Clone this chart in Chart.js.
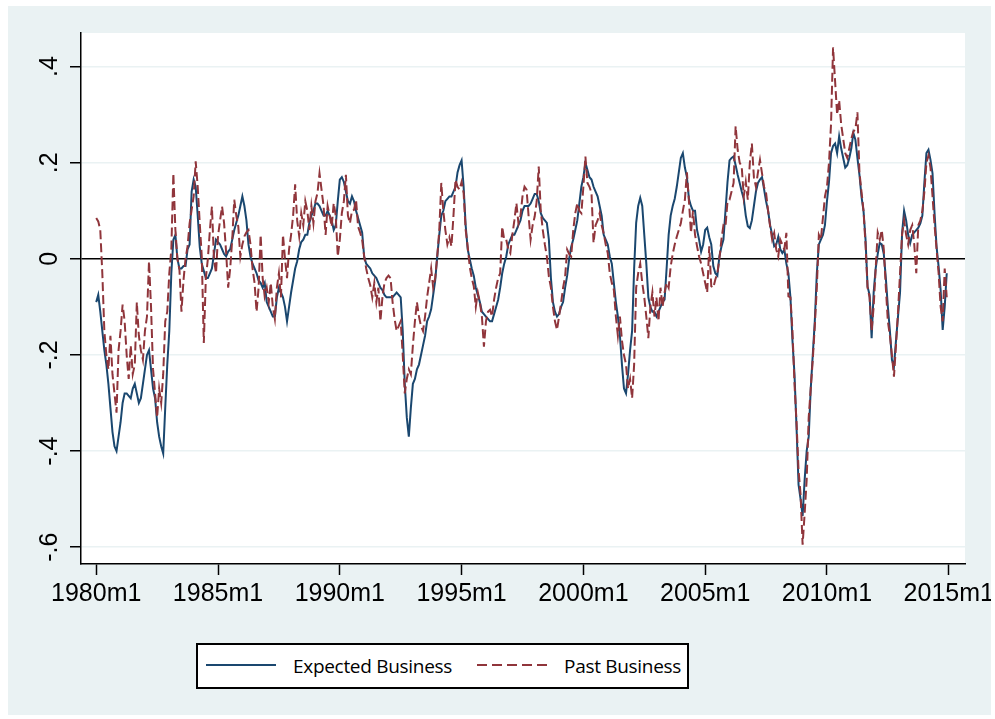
<!DOCTYPE html>
<html>
<head>
<meta charset="utf-8">
<script src="https://cdn.jsdelivr.net/npm/chart.js@4.4.0/dist/chart.umd.min.js"></script>
<style>
  body { margin: 0; background: #fff; width: 995px; height: 719px; overflow: hidden; position: relative; }
  #frame { position: absolute; left: 8px; top: 6px; width: 983px; height: 709px; background: #eaf2f3; }
  #chart { position: absolute; left: 0; top: 0; }
  #legend { position: absolute; left: 188px; top: 637px; width: 493px; height: 46px; box-sizing: border-box;
            border: 2px solid #000; background: #fff; font-family: "Open Sans", sans-serif; font-size: 19px; color: #000; }
  #legend svg, #legend span { position: absolute; }
  #legend span { top: 8px; line-height: 26px; white-space: nowrap; letter-spacing: -0.3px; }
</style>
</head>
<body>
<div id="frame">
  <canvas id="chart" width="983" height="709"></canvas>
  <div id="legend">
    <svg style="left:8px; top:17px" width="70" height="6"><line x1="0" y1="3" x2="70" y2="3" stroke="#1a476f" stroke-width="2"/></svg>
    <span id="lab0" style="left:95px"></span>
    <svg style="left:279px; top:17px" width="72" height="6"><line x1="0" y1="3" x2="72" y2="3" stroke="#90353b" stroke-width="2" stroke-dasharray="10,5"/></svg>
    <span id="lab1" style="left:366px"></span>
  </div>
</div>
<script>
// monthly values, 1980m1 .. 2014m12, one row per year
const expectedBusiness = [
  -0.09, -0.075, -0.11, -0.15, -0.19, -0.22, -0.26, -0.31, -0.36, -0.39, -0.40, -0.37,   // 1980
  -0.34, -0.30, -0.28, -0.28, -0.285, -0.29, -0.27, -0.26, -0.28, -0.30, -0.29, -0.26,   // 1981
  -0.23, -0.20, -0.19, -0.23, -0.27, -0.29, -0.34, -0.37, -0.39, -0.405, -0.31, -0.22,   // 1982
  -0.15, -0.03, 0.04, 0.05, 0.0, -0.02, -0.02, -0.015, -0.015, 0.02, 0.03, 0.14,          // 1983
  0.165, 0.15, 0.09, 0.025, -0.01, -0.025, -0.04, -0.04, -0.03, -0.02, 0.01, 0.04,        // 1984
  0.035, 0.03, 0.02, 0.01, 0.005, 0.015, 0.02, 0.04, 0.06, 0.075, 0.09, 0.11,             // 1985
  0.13, 0.11, 0.08, 0.03, 0.005, -0.01, -0.02, -0.03, -0.045, -0.05, -0.06, -0.05,        // 1986
  -0.09, -0.10, -0.11, -0.12, -0.12, -0.08, -0.06, -0.07, -0.08, -0.10, -0.13, -0.10,    // 1987
  -0.07, -0.045, -0.02, -0.005, 0.02, 0.035, 0.04, 0.05, 0.05, 0.075, 0.09, 0.10,        // 1988
  0.115, 0.115, 0.11, 0.10, 0.09, 0.09, 0.10, 0.09, 0.08, 0.06, 0.07, 0.12,               // 1989
  0.165, 0.17, 0.16, 0.14, 0.12, 0.115, 0.13, 0.12, 0.10, 0.085, 0.07, 0.055,             // 1990
  0.005, -0.01, -0.015, -0.02, -0.03, -0.035, -0.04, -0.05, -0.06, -0.065, -0.075, -0.08, // 1991
  -0.08, -0.08, -0.08, -0.075, -0.07, -0.075, -0.08, -0.15, -0.26, -0.33, -0.37, -0.31,  // 1992
  -0.26, -0.25, -0.23, -0.22, -0.20, -0.18, -0.16, -0.13, -0.12, -0.105, -0.075, -0.045, // 1993
  0.005, 0.05, 0.09, 0.10, 0.12, 0.125, 0.13, 0.13, 0.14, 0.15, 0.18, 0.195,             // 1994
  0.205, 0.15, 0.07, 0.02, 0.0, -0.02, -0.035, -0.06, -0.075, -0.09, -0.11, -0.115,      // 1995
  -0.12, -0.125, -0.13, -0.13, -0.115, -0.10, -0.085, -0.06, -0.03, -0.01, 0.005, 0.03,  // 1996
  0.04, 0.05, 0.05, 0.06, 0.07, 0.08, 0.10, 0.11, 0.11, 0.11, 0.115, 0.125,               // 1997
  0.135, 0.135, 0.12, 0.095, 0.085, 0.08, 0.075, 0.04, -0.04, -0.09, -0.11, -0.12,        // 1998
  -0.115, -0.10, -0.09, -0.06, -0.035, 0.0, 0.025, 0.04, 0.06, 0.08, 0.115, 0.15,        // 1999
  0.17, 0.20, 0.185, 0.17, 0.165, 0.15, 0.14, 0.13, 0.11, 0.09, 0.05, 0.04,               // 2000
  0.03, 0.005, -0.01, -0.05, -0.09, -0.12, -0.16, -0.22, -0.27, -0.28, -0.24, -0.19,     // 2001
  -0.15, -0.02, 0.075, 0.11, 0.127, 0.11, 0.05, -0.01, -0.08, -0.10, -0.11, -0.11,       // 2002
  -0.12, -0.11, -0.10, -0.09, -0.085, -0.02, 0.05, 0.09, 0.11, 0.125, 0.15, 0.18,        // 2003
  0.21, 0.22, 0.19, 0.17, 0.125, 0.11, 0.10, 0.10, 0.06, 0.04, 0.015, 0.03,               // 2004
  0.06, 0.065, 0.045, 0.03, -0.015, -0.03, -0.035, 0.005, 0.025, 0.04, 0.10, 0.16,        // 2005
  0.205, 0.21, 0.213, 0.195, 0.175, 0.158, 0.14, 0.125, 0.09, 0.068, 0.064, 0.08,         // 2006
  0.11, 0.14, 0.158, 0.165, 0.17, 0.145, 0.12, 0.10, 0.07, 0.05, 0.026, 0.03,             // 2007
  0.046, 0.02, 0.012, 0.019, -0.01, -0.03, -0.08, -0.17, -0.24, -0.35, -0.47, -0.50,     // 2008
  -0.535, -0.46, -0.40, -0.37, -0.27, -0.20, -0.13, -0.03, 0.03, 0.04, 0.05, 0.07,       // 2009
  0.12, 0.16, 0.22, 0.235, 0.24, 0.22, 0.255, 0.23, 0.21, 0.19, 0.195, 0.21,              // 2010
  0.23, 0.262, 0.248, 0.21, 0.175, 0.13, 0.10, 0.04, -0.058, -0.075, -0.165, -0.07,       // 2011
  -0.02, 0.01, 0.033, 0.03, 0.01, -0.04, -0.10, -0.15, -0.21, -0.224, -0.17, -0.12,      // 2012
  -0.07, 0.053, 0.10, 0.08, 0.05, 0.033, 0.05, 0.055, 0.06, 0.065, 0.074, 0.09,          // 2013
  0.16, 0.22, 0.227, 0.206, 0.178, 0.095, 0.025, -0.016, -0.065, -0.148, -0.10, -0.03    // 2014
];

const pastBusiness = [
  0.085, 0.078, 0.06, -0.03, -0.15, -0.20, -0.23, -0.16, -0.24, -0.28, -0.32, -0.19,     // 1980
  -0.15, -0.095, -0.13, -0.20, -0.25, -0.18, -0.24, -0.22, -0.09, -0.16, -0.19, -0.21,   // 1981
  -0.15, -0.12, -0.005, -0.10, -0.23, -0.28, -0.33, -0.27, -0.30, -0.24, -0.13, -0.11,   // 1982
  -0.03, 0.02, 0.178, 0.06, 0.0, -0.023, -0.11, -0.044, 0.0, 0.026, 0.074, 0.102,        // 1983
  0.13, 0.203, 0.15, 0.074, 0.005, -0.175, -0.04, 0.0, 0.06, 0.109, 0.0, -0.03,          // 1984
  0.047, 0.08, 0.109, 0.074, 0.013, -0.06, -0.02, 0.04, 0.123, 0.09, 0.067, 0.005,       // 1985
  0.03, 0.047, 0.055, 0.06, 0.03, -0.02, -0.05, -0.11, -0.06, 0.05, -0.04, -0.078,       // 1986
  -0.06, -0.09, -0.05, -0.10, -0.125, -0.06, -0.03, -0.08, 0.05, 0.0, -0.04, 0.02,       // 1987
  0.05, 0.09, 0.155, 0.08, 0.047, 0.095, 0.07, 0.12, 0.10, 0.06, 0.11, 0.074,            // 1988
  0.12, 0.137, 0.178, 0.144, 0.11, 0.05, 0.11, 0.09, 0.067, 0.116, 0.09, 0.005,          // 1989
  0.04, 0.095, 0.12, 0.175, 0.09, 0.074, 0.10, 0.102, 0.123, 0.067, 0.055, 0.04,         // 1990
  0.005, -0.02, -0.04, -0.055, -0.08, -0.05, -0.09, -0.06, -0.13, -0.08, -0.05, -0.04,  // 1991
  -0.035, -0.04, -0.09, -0.125, -0.15, -0.14, -0.13, -0.20, -0.28, -0.25, -0.23, -0.24, // 1992
  -0.18, -0.13, -0.09, -0.12, -0.14, -0.15, -0.12, -0.08, -0.05, -0.02, -0.06, -0.04,   // 1993
  0.005, 0.06, 0.158, 0.10, 0.06, 0.03, 0.045, 0.026, 0.09, 0.165, 0.15, 0.144,         // 1994
  0.16, 0.137, 0.06, 0.026, -0.016, -0.04, -0.057, -0.10, -0.07, -0.09, -0.12, -0.183,  // 1995
  -0.13, -0.11, -0.106, -0.12, -0.085, -0.06, -0.04, -0.03, 0.067, 0.04, 0.04, 0.02,    // 1996
  0.012, 0.05, 0.08, 0.116, 0.074, 0.09, 0.13, 0.15, 0.144, 0.09, 0.04, 0.07,           // 1997
  0.088, 0.12, 0.192, 0.10, 0.06, 0.03, 0.005, -0.037, -0.06, -0.10, -0.13, -0.148,     // 1998
  -0.12, -0.092, -0.06, -0.037, 0.019, 0.01, 0.005, 0.06, 0.095, 0.116, 0.10, 0.095,    // 1999
  0.15, 0.213, 0.158, 0.15, 0.137, 0.033, 0.07, 0.08, 0.095, 0.07, 0.053, 0.03,         // 2000
  0.012, -0.03, -0.05, -0.064, -0.12, -0.16, -0.12, -0.17, -0.20, -0.22, -0.27, -0.25,  // 2001
  -0.29, -0.22, -0.06, -0.03, -0.01, -0.05, -0.08, -0.12, -0.165, -0.10, -0.07, -0.12,  // 2002
  -0.08, -0.13, -0.06, -0.10, -0.07, -0.05, -0.06, -0.016, 0.01, 0.03, 0.046, 0.06,     // 2003
  0.074, 0.10, 0.123, 0.18, 0.12, 0.054, 0.10, 0.05, 0.026, 0.005, -0.01, -0.03,        // 2004
  -0.05, -0.07, 0.026, -0.057, -0.06, -0.043, -0.03, 0.0, 0.04, 0.07, 0.067, 0.12,      // 2005
  0.123, 0.14, 0.158, 0.276, 0.227, 0.20, 0.192, 0.13, 0.16, 0.123, 0.20, 0.24,         // 2006
  0.17, 0.15, 0.18, 0.206, 0.178, 0.15, 0.137, 0.10, 0.067, 0.04, 0.054, 0.02,          // 2007
  0.005, 0.04, 0.03, 0.02, 0.054, -0.078, -0.08, -0.15, -0.26, -0.34, -0.44, -0.49,     // 2008
  -0.595, -0.53, -0.46, -0.33, -0.27, -0.21, -0.14, -0.06, 0.05, 0.04, 0.085, 0.13,     // 2009
  0.15, 0.20, 0.28, 0.44, 0.37, 0.30, 0.33, 0.28, 0.25, 0.22, 0.21, 0.23,               // 2010
  0.25, 0.265, 0.27, 0.305, 0.18, 0.14, 0.10, 0.03, -0.06, -0.08, -0.15, -0.10,         // 2011
  -0.02, 0.055, 0.04, 0.06, 0.02, -0.06, -0.13, -0.16, -0.20, -0.245, -0.18, -0.11,     // 2012
  -0.03, 0.05, 0.08, 0.05, 0.03, 0.06, 0.07, 0.03, -0.03, 0.07, 0.08, 0.10,             // 2013
  0.14, 0.20, 0.215, 0.19, 0.13, 0.07, 0.02, -0.03, -0.10, -0.13, -0.02, -0.08          // 2014
];

const startYear = 1980;
const seriesNames = ['Expected Business', 'Past Business'];
const seriesColors = ['#1a476f', '#90353b'];
const xTickMonths = [0, 60, 120, 180, 240, 300, 360, 420];
const yTickValues = [-0.6, -0.4, -0.2, 0, 0.2, 0.4];

document.getElementById('lab0').textContent = seriesNames[0];
document.getElementById('lab1').textContent = seriesNames[1];

const tickFont = { family: '"Liberation Sans", Arial, sans-serif', size: 25 };

// white plot region inside the grey-blue graph region
const plotBg = {
  id: 'plotBg',
  beforeDraw(chart) {
    const a = chart.chartArea;
    const ctx = chart.ctx;
    ctx.save();
    ctx.fillStyle = '#ffffff';
    ctx.fillRect(a.left, a.top, a.right - a.left, a.bottom - a.top);
    ctx.restore();
  }
};

function yLabel(v) {
  if (Math.abs(v) < 1e-9) return '0';
  return (v < 0 ? '-' : '') + '.' + Math.round(Math.abs(v) * 10);
}

const ctx = document.getElementById('chart').getContext('2d');
const myChart = new Chart(ctx, {
  type: 'line',
  data: {
    datasets: [{
      label: seriesNames[0],
      data: expectedBusiness.map((v, i) => ({ x: i, y: v })),
      borderColor: seriesColors[0],
      borderWidth: 2,
      pointRadius: 0,
      fill: false,
      tension: 0,
      order: 1
    }, {
      label: seriesNames[1],
      data: pastBusiness.map((v, i) => ({ x: i, y: v })),
      borderColor: seriesColors[1],
      borderWidth: 2,
      borderDash: [9, 4],
      pointRadius: 0,
      fill: false,
      tension: 0,
      order: 0
    }]
  },
  options: {
    responsive: false,
    devicePixelRatio: 1,
    animation: false,
    layout: { padding: { left: 0, top: 27, right: 26, bottom: 0 } },
    plugins: {
      legend: { display: false },
      tooltip: { enabled: false }
    },
    scales: {
      x: {
        type: 'linear',
        min: -7.5,
        max: 428,
        afterBuildTicks: s => { s.ticks = xTickMonths.map(v => ({ value: v })); },
        afterFit: s => { s.height = 151; s.paddingLeft = 0; s.paddingRight = 0; },
        border: { display: true, color: '#000', width: 1.5 },
        grid: { drawOnChartArea: false, drawTicks: true, tickLength: 11, tickColor: '#000', tickWidth: 1.5 },
        ticks: {
          autoSkip: false, maxRotation: 0, minRotation: 0, padding: 4,
          color: '#000', font: tickFont,
          callback: v => (startYear + v / 12) + 'm1'
        }
      },
      y: {
        min: -0.635,
        max: 0.47,
        afterBuildTicks: s => { s.ticks = yTickValues.map(v => ({ value: v })); },
        afterFit: s => { s.width = 73; s.paddingTop = 0; s.paddingBottom = 0; },
        border: { display: true, color: '#000', width: 1.5 },
        grid: {
          color: c => (c.tick && c.tick.value === 0) ? '#000' : '#eaf2f3',
          lineWidth: 1.5,
          drawTicks: true, tickLength: 11, tickColor: '#000', tickWidth: 1.5
        },
        ticks: {
          autoSkip: false, minRotation: 90, maxRotation: 90, crossAlign: 'center', padding: 5,
          color: '#000', font: tickFont,
          callback: v => yLabel(v)
        }
      }
    }
  },
  plugins: [plotBg]
});
</script>
</body>
</html>
